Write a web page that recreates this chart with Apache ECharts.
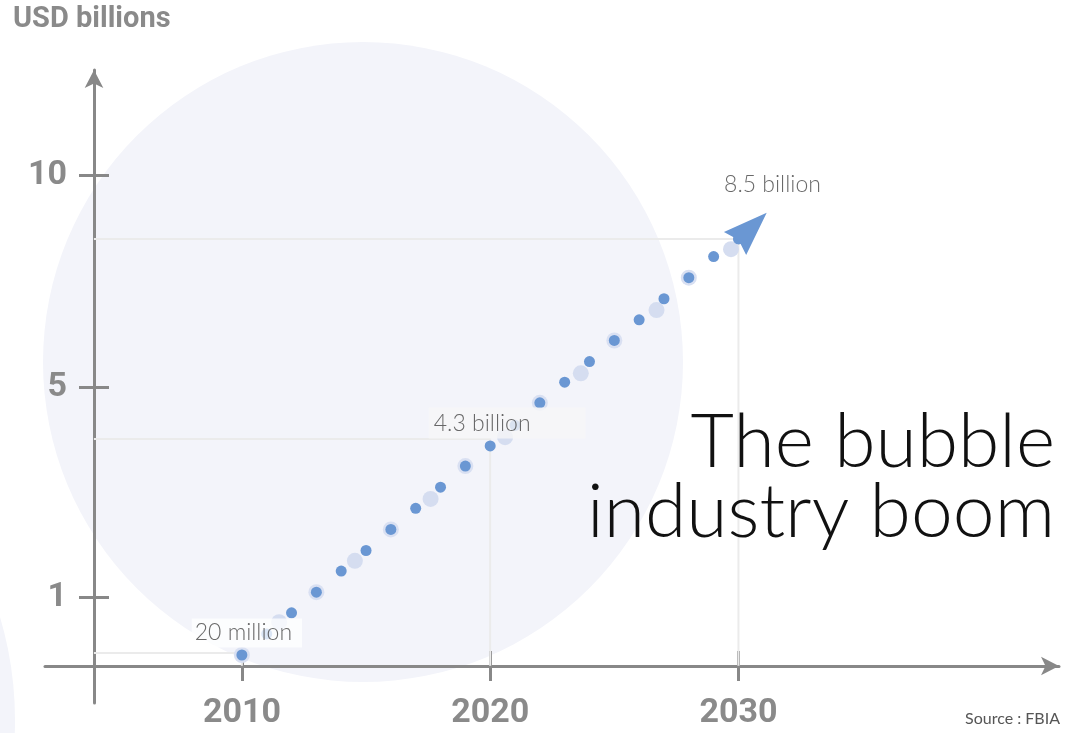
<!DOCTYPE html>
<html>
<head>
<meta charset="utf-8">
<title>The bubble industry boom</title>
<script src="https://cdn.jsdelivr.net/npm/echarts@6.0.0/dist/echarts.min.js"></script>
<style>
  html, body { margin: 0; padding: 0; background: #ffffff; }
  #container { width: 1075px; height: 733px; }
</style>
</head>
<body>
<div id="container"></div>
<script>
// valores (USD billions)
var years = [2010, 2011, 2012, 2013, 2014, 2015, 2016, 2017, 2018, 2019, 2020,
             2021, 2022, 2023, 2024, 2025, 2026, 2027, 2028, 2029, 2030];
var values = [0.02, 0.45, 0.88, 1.30, 1.73, 2.15, 2.58, 3.01, 3.44, 3.87, 4.28,
              4.70, 5.16, 5.58, 6.00, 6.43, 6.85, 7.28, 7.71, 8.14, 8.50];
var ringYears = [2010, 2013, 2016, 2019, 2022, 2025, 2028];
var halfYears = [2011.5, 2014.55, 2017.6, 2020.6, 2023.65, 2026.7, 2029.7];
var halfValues = [0.69, 1.94, 3.20, 4.46, 5.76, 7.05, 8.29];
var noteYears = [2010, 2020, 2030];
var noteValues = [0.06, 4.42, 8.50];
var noteTexts = ['20 million', '4.3 billion', '8.5 billion'];
var arrowHead = [2030.5, 8.72];
var xTicks = [2010, 2020, 2030];
var yTickAt = [1.2, 5.48, 9.8];
var yTickLabels = ['1', '5', '10'];

document.addEventListener('DOMContentLoaded', function () {
    var dom = document.getElementById('container');
    var myChart = echarts.init(dom, null, { renderer: 'canvas' });

    var axisGray = '#888888';
    var xMin = 2002.07, xMax = 2042.91, yMin = -0.958, yMax = 11.942;
    var yAxisYear = 2004.04; // donde cruza el eje vertical

    var dots = years.map(function (y, i) { return [y, values[i]]; });
    var halos = dots.filter(function (d) { return ringYears.indexOf(d[0]) >= 0; });
    var halfDots = halfYears.map(function (y, i) { return [y, halfValues[i]]; });

    // lineas guia desde el eje vertical hasta cada punto y luego al eje x
    var guideSeries = noteYears.map(function (y, i) {
        return {
            type: 'line',
            silent: true,
            symbol: 'none',
            z: 1,
            lineStyle: { color: '#ebebeb', width: 2 },
            data: [[yAxisYear, noteValues[i]], [y, noteValues[i]], [y, -0.2]]
        };
    });

    var labelSetup = [
        { offset: [5, -20], padding: [5, 10, 1, 3], backgroundColor: 'rgba(255,255,255,0.95)' },
        { offset: [17, -16], padding: [4, 55, 4, 5], backgroundColor: '#f6f6f7' },
        { offset: [34, -54], padding: 0, backgroundColor: 'transparent' }
    ];

    var notes = noteYears.map(function (y, i) {
        return {
            value: [y, noteValues[i]],
            label: {
                show: true,
                position: 'inside',
                formatter: noteTexts[i],
                offset: labelSetup[i].offset,
                padding: labelSetup[i].padding,
                backgroundColor: labelSetup[i].backgroundColor,
                color: '#444444',
                fontFamily: 'Lato',
                fontWeight: 300,
                fontSize: 23
            }
        };
    });

    var option = {
        animation: false,
        grid: { left: 45, right: 16, top: 70, bottom: 30, containLabel: false, outerBoundsMode: 'none' },
        graphic: [
            { type: 'circle', silent: true, z: -10, shape: { cx: 363, cy: 362, r: 320 }, style: { fill: '#f3f4fa' } },
            { type: 'circle', silent: true, z: -10, shape: { cx: -346, cy: 720, r: 361 }, style: { fill: '#f3f4fa' } },
            {
                type: 'text', x: 13, y: 5, z: 10,
                style: { text: 'USD billions', fill: '#8a8a8a', fontFamily: 'Roboto', fontWeight: 'bold', fontSize: 29 }
            },
            {
                type: 'text', x: 1055, y: 408, z: 10,
                style: {
                    text: 'The bubble\nindustry boom', align: 'right', verticalAlign: 'top',
                    fill: '#111111', fontFamily: 'Lato', fontWeight: 300, fontSize: 75, lineHeight: 70
                }
            },
            {
                type: 'text', x: 1060, y: 727, z: 10,
                style: {
                    text: 'Source : FBIA', align: 'right', verticalAlign: 'bottom',
                    fill: '#555555', fontFamily: 'Lato', fontSize: 16
                }
            }
        ],
        xAxis: [
            {
                type: 'value', min: xMin, max: xMax, position: 'bottom', offset: -37,
                axisLine: { onZero: false, symbol: ['none', 'arrow'], symbolSize: [14, 18], lineStyle: { color: axisGray, width: 3 } },
                axisTick: { customValues: xTicks, length: 15, lineStyle: { color: axisGray, width: 3 } },
                axisLabel: {
                    customValues: xTicks, margin: 30, color: '#8a8a8a', fontFamily: 'Roboto', fontWeight: 'bold', fontSize: 34,
                    formatter: function (v) { return String(Math.round(v)); }
                },
                splitLine: { show: false }
            },
            {
                type: 'value', min: xMin, max: xMax, position: 'top', offset: -596,
                axisLine: { show: false, onZero: false },
                axisTick: { customValues: xTicks, length: 15, lineStyle: { color: axisGray, width: 3 } },
                axisLabel: { show: false },
                splitLine: { show: false }
            }
        ],
        yAxis: [
            {
                type: 'value', min: yMin, max: yMax, position: 'left', offset: -49,
                axisLine: { onZero: false, symbol: ['none', 'arrow'], symbolSize: [14, 18], lineStyle: { color: axisGray, width: 3 } },
                axisTick: { customValues: yTickAt, length: 15, lineStyle: { color: axisGray, width: 3 } },
                axisLabel: {
                    customValues: yTickAt, margin: 27, color: '#8a8a8a', fontFamily: 'Roboto', fontWeight: 'bold', fontSize: 34,
                    formatter: function (v) {
                        var best = 0;
                        yTickAt.forEach(function (t, i) {
                            if (Math.abs(t - v) < Math.abs(yTickAt[best] - v)) best = i;
                        });
                        return yTickLabels[best];
                    }
                },
                splitLine: { show: false }
            },
            {
                type: 'value', min: yMin, max: yMax, position: 'right', offset: -965,
                axisLine: { show: false, onZero: false },
                axisTick: { customValues: yTickAt, length: 15, lineStyle: { color: axisGray, width: 3 } },
                axisLabel: { show: false },
                splitLine: { show: false }
            }
        ],
        series: guideSeries.concat([
            {
                type: 'scatter', silent: true, z: 2,
                symbolSize: 16,
                itemStyle: { color: '#d5ddf0', opacity: 1 },
                data: halfDots
            },
            {
                type: 'scatter', silent: true, z: 3,
                symbolSize: 16,
                itemStyle: { color: '#d9e0f2', opacity: 1 },
                data: halos
            },
            {
                type: 'scatter', silent: true, z: 4,
                symbolSize: 11,
                itemStyle: { color: '#6a97d3', opacity: 1 },
                data: dots
            },
            {
                type: 'scatter', silent: true, z: 5,
                symbol: 'path://M16,0 L32,44 L16,39 L0,44 Z', symbolKeepAspect: false,
                symbolSize: [32, 44], symbolRotate: -46,
                itemStyle: { color: '#6a97d3', opacity: 1 },
                data: [arrowHead]
            },
            {
                type: 'scatter', silent: true, z: 6,
                symbolSize: 0,
                data: notes
            }
        ])
    };

    myChart.setOption(option);
    window.addEventListener('resize', myChart.resize);
});
</script>
</body>
</html>
